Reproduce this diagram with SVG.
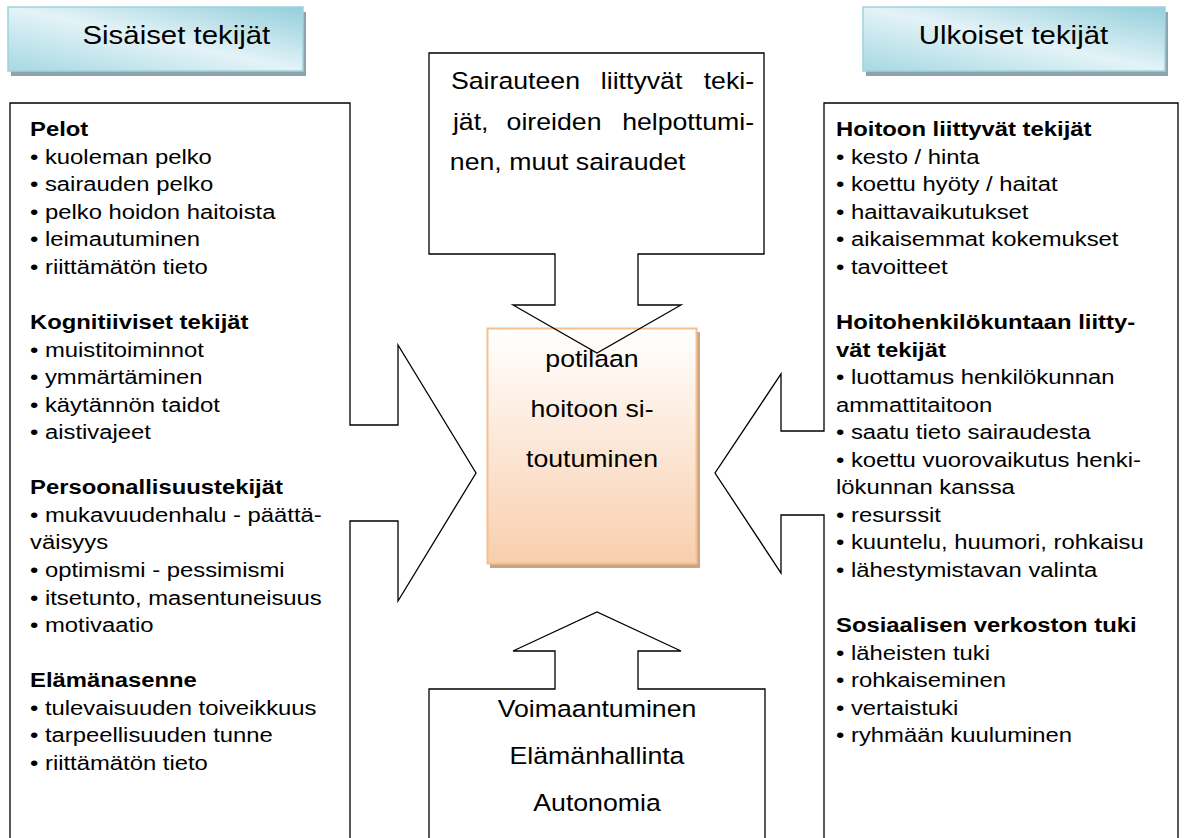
<svg xmlns="http://www.w3.org/2000/svg" width="1184" height="838" viewBox="0 0 1184 838">
<defs>
<linearGradient id="hdr" x1="1" y1="0" x2="0" y2="1">
<stop offset="0" stop-color="#93cedb"/>
<stop offset="0.5" stop-color="#e3f3f7"/>
<stop offset="1" stop-color="#a6d8e3"/>
</linearGradient>
<linearGradient id="ctr" x1="0" y1="0" x2="0" y2="1">
<stop offset="0" stop-color="#ffffff"/>
<stop offset="1" stop-color="#f8cfae"/>
</linearGradient>
<style>
.t{font-family:"Liberation Sans",Arial,sans-serif;font-size:21px;fill:#000}
.b{font-weight:bold}
.c{font-family:"Liberation Sans",Arial,sans-serif;font-size:23.5px;fill:#000}
.h{font-family:"Liberation Sans",Arial,sans-serif;font-size:26px;fill:#000}
.shape{fill:none;stroke:#000;stroke-width:1.3;stroke-linejoin:miter}
.hbox{fill:url(#hdr);stroke:#9fd2de;stroke-width:1.5}
.hsh{fill:#8ea4ac}
</style>
</defs>
<rect width="1184" height="838" fill="#fff"/>

<g id="header-internal">
<rect class="hsh" x="11" y="12" width="295" height="64"/>
<rect class="hbox" x="8" y="7" width="295" height="64"/>
<g transform="translate(82.5,0) scale(1.13,1)"><text class="h" x="0" y="44">Sisäiset tekijät</text></g>
</g>

<g id="header-external">
<rect class="hsh" x="866" y="12" width="302" height="64"/>
<rect class="hbox" x="863" y="7" width="302" height="64"/>
<g transform="translate(1013.5,0) scale(1.13,1)"><text class="h" x="0" y="44" text-anchor="middle">Ulkoiset tekijät</text></g>
</g>

<g id="center">
<rect x="490" y="332" width="210" height="236" fill="#c9a586"/>
<rect x="487.5" y="328.5" width="209" height="235" fill="url(#ctr)" stroke="#f6bf8e" stroke-width="2"/>
<g transform="translate(592,0) scale(1.135,1)">
<text class="c" x="0" y="366.7" text-anchor="middle">potilaan</text>
<text class="c" x="0" y="417" text-anchor="middle">hoitoon si-</text>
<text class="c" x="0" y="467.3" text-anchor="middle">toutuminen</text>
</g>
</g>

<g id="internal-factors">
<path class="shape" d="M10,103 H350 V425 H398 V345 L476,473 L398,601 V521 H350 V850 H10 Z"/>
<g transform="translate(30,0) scale(1.135,1)">
<text class="t b" x="0" y="136.2">Pelot</text>
<text class="t" x="0" y="163.75">• kuoleman pelko</text>
<text class="t" x="0" y="191.3">• sairauden pelko</text>
<text class="t" x="0" y="218.85">• pelko hoidon haitoista</text>
<text class="t" x="0" y="246.4">• leimautuminen</text>
<text class="t" x="0" y="273.95">• riittämätön tieto</text>
<text class="t b" x="0" y="329.05">Kognitiiviset tekijät</text>
<text class="t" x="0" y="356.6">• muistitoiminnot</text>
<text class="t" x="0" y="384.15">• ymmärtäminen</text>
<text class="t" x="0" y="411.7">• käytännön taidot</text>
<text class="t" x="0" y="439.25">• aistivajeet</text>
<text class="t b" x="0" y="494.35">Persoonallisuustekijät</text>
<text class="t" x="0" y="521.9">• mukavuudenhalu - päättä-</text>
<text class="t" x="0" y="549.45">väisyys</text>
<text class="t" x="0" y="577">• optimismi - pessimismi</text>
<text class="t" x="0" y="604.55">• itsetunto, masentuneisuus</text>
<text class="t" x="0" y="632.1">• motivaatio</text>
<text class="t b" x="0" y="687.2">Elämänasenne</text>
<text class="t" x="0" y="714.75">• tulevaisuuden toiveikkuus</text>
<text class="t" x="0" y="742.3">• tarpeellisuuden tunne</text>
<text class="t" x="0" y="769.85">• riittämätön tieto</text>
</g>
</g>

<g id="external-factors">
<path class="shape" d="M1178,103 H824 V431 H781 V374 L715,473 L781,573 V515 H824 V850 H1178 Z"/>
<g transform="translate(836,0) scale(1.135,1)">
<text class="t b" x="0" y="136.2">Hoitoon liittyvät tekijät</text>
<text class="t" x="0" y="163.75">• kesto / hinta</text>
<text class="t" x="0" y="191.3">• koettu hyöty / haitat</text>
<text class="t" x="0" y="218.85">• haittavaikutukset</text>
<text class="t" x="0" y="246.4">• aikaisemmat kokemukset</text>
<text class="t" x="0" y="273.95">• tavoitteet</text>
<text class="t b" x="0" y="329.05">Hoitohenkilökuntaan liitty-</text>
<text class="t b" x="0" y="356.6">vät tekijät</text>
<text class="t" x="0" y="384.15">• luottamus henkilökunnan</text>
<text class="t" x="0" y="411.7">ammattitaitoon</text>
<text class="t" x="0" y="439.25">• saatu tieto sairaudesta</text>
<text class="t" x="0" y="466.8">• koettu vuorovaikutus henki-</text>
<text class="t" x="0" y="494.35">lökunnan kanssa</text>
<text class="t" x="0" y="521.9">• resurssit</text>
<text class="t" x="0" y="549.45">• kuuntelu, huumori, rohkaisu</text>
<text class="t" x="0" y="577">• lähestymistavan valinta</text>
<text class="t b" x="0" y="632.1">Sosiaalisen verkoston tuki</text>
<text class="t" x="0" y="659.65">• läheisten tuki</text>
<text class="t" x="0" y="687.2">• rohkaiseminen</text>
<text class="t" x="0" y="714.75">• vertaistuki</text>
<text class="t" x="0" y="742.3">• ryhmään kuuluminen</text>
</g>
</g>

<g id="disease-factors">
<path class="shape" d="M429,53 H764 V254 H638 V305 H681 L597,353 L513,305 H555 V254 H429 Z"/>
<g transform="translate(451,0) scale(1.135,1)">
<text class="c" x="0" y="89.3">Sairauteen</text>
<text class="c" x="132" y="89.3">liittyvät</text>
<text class="c" x="267" y="89.3" text-anchor="end">teki-</text>
<text class="c" x="1.7" y="130">jät,</text>
<text class="c" x="49" y="130">oireiden</text>
<text class="c" x="267" y="130" text-anchor="end">helpottumi-</text>
<text class="c" x="-1" y="170.5">nen, muut sairaudet</text>
</g>
</g>

<g id="empowerment">
<path class="shape" d="M429,850 V689 H555 V651 H513 L597,612 L681,651 H638 V689 H765 V850"/>
<g transform="translate(597,0) scale(1.135,1)">
<text class="c" x="0" y="717.3" text-anchor="middle">Voimaantuminen</text>
<text class="c" x="0" y="764.3" text-anchor="middle">Elämänhallinta</text>
<text class="c" x="0" y="810.7" text-anchor="middle">Autonomia</text>
</g>
</g>

<g id="connectors"></g>
</svg>
